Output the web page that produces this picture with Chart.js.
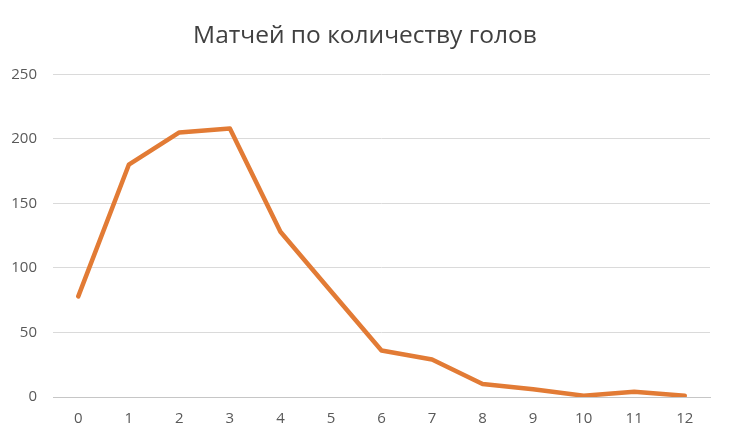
<!DOCTYPE html>
<html>
<head>
<meta charset="utf-8">
<script src="https://cdn.jsdelivr.net/npm/chart.js@4"></script>
<style>
  html, body { margin: 0; padding: 0; background: #ffffff; }
  #wrap { width: 730px; height: 444px; }
</style>
</head>
<body>
<div id="wrap"><canvas id="grafica" width="730" height="444"></canvas></div>
<script>
// Количество голов в матче
const goles = ["0", "1", "2", "3", "4", "5", "6", "7", "8", "9", "10", "11", "12"];
// Число матчей
const partidos = [78, 180, 205, 208, 128, 82, 36, 29, 10, 6, 1, 4, 1];
// Подписи оси Y
const ticksY = [0, 50, 100, 150, 200, 250];

const ctx = document.getElementById("grafica").getContext("2d");
new Chart(ctx, {
    type: "line",
    data: {
        labels: goles,
        datasets: [
            {
                label: "Матчей",
                data: partidos,
                borderColor: "#E27B35",
                borderWidth: 4.5,
                pointRadius: 0,
                tension: 0,
                borderJoinStyle: "round",
                borderCapStyle: "round"
            }
        ]
    },
    options: {
        responsive: false,
        animation: false,
        layout: { padding: { left: 8, right: 8, top: 0, bottom: 0 } },
        plugins: {
            legend: { display: false },
            tooltip: { enabled: false },
            title: {
                display: true,
                text: "Матчей по количеству голов",
                color: "#404040",
                font: { family: "'Open Sans'", size: 24.5, weight: "normal" },
                padding: { top: 21, bottom: 24 }
            }
        },
        scales: {
            x: {
                offset: true,
                grid: { display: false, drawTicks: false },
                border: { display: true, color: "#c6c6c6", width: 1 },
                ticks: {
                    color: "#595959",
                    font: { family: "'Open Sans'", size: 15 },
                    padding: 13,
                    maxRotation: 0
                },
                afterFit: function (scale) { scale.height = 47; }
            },
            y: {
                min: 0,
                max: 250,
                afterBuildTicks: function (scale) {
                    scale.ticks = ticksY.map(v => ({ value: v }));
                },
                grid: { color: "#dadada", lineWidth: 1, drawTicks: false },
                border: { display: false },
                ticks: {
                    color: "#595959",
                    font: { family: "'Open Sans'", size: 15 },
                    padding: 16
                },
                afterFit: function (scale) { scale.width = 45; }
            },
            // пустая правая ось, только для отступа справа
            derecha: {
                position: "right",
                min: 0,
                max: 250,
                grid: { display: false, drawTicks: false },
                border: { display: false },
                ticks: { display: false },
                afterFit: function (scale) { scale.width = 12; }
            }
        }
    }
});
</script>
</body>
</html>
